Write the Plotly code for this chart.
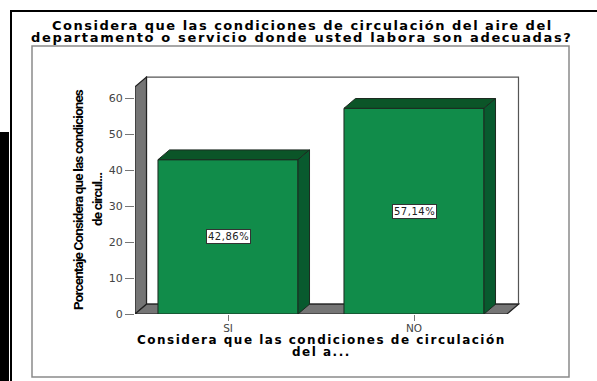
import plotly.graph_objects as go

# Survey results
categories = ["SI", "NO"]
percentages = [42.86, 57.14]
value_labels = ["42,86%", "57,14%"]
y_ticks = [0, 10, 20, 30, 40, 50, 60]

title_lines = [
    "Considera que las condiciones de circulación del aire del",
    "departamento o servicio donde usted labora son adecuadas?",
]
x_title_lines = ["Considera que las condiciones de circulación", "del a..."]
y_title_lines = ["Porcentaje Considera que las condiciones", "de circul..."]

W, H = 597, 381
FRONT = "#118c4a"
TOP = "#0b5528"
SIDE = "#085a2e"
WALL = "#757575"
EDGE = "#1c2a20"

# Oblique extrusion of the 3D look, in axis units
DX, DY = 0.0618, 2.72
BAR_W = 0.753
X0, X1 = -0.5, 1.5
WALL_TOP = 63.1


def px(x):
    return x / W


def py(y):
    return 1 - y / H


def poly(points):
    return "M" + "L".join(f"{a},{b}" for a, b in points) + "Z"


fig = go.Figure()

fig.add_bar(
    x=[0, 1], y=percentages, width=BAR_W,
    marker=dict(color=FRONT, line=dict(color=EDGE, width=1)),
    hoverinfo="skip",
)

# Top and side faces of each bar
for i, v in enumerate(percentages):
    l, r = i - BAR_W / 2, i + BAR_W / 2
    fig.add_scatter(
        x=[l, l + DX, r + DX, r, l], y=[v, v + DY, v + DY, v, v],
        mode="lines", fill="toself", fillcolor=TOP,
        line=dict(color=EDGE, width=1), hoverinfo="skip",
    )
    fig.add_scatter(
        x=[r, r + DX, r + DX, r, r], y=[0, DY, v + DY, v, 0],
        mode="lines", fill="toself", fillcolor=SIDE,
        line=dict(color=EDGE, width=1), hoverinfo="skip",
    )

shapes = [
    # Outer black rules
    dict(type="rect", xref="paper", yref="paper", x0=px(0), x1=px(9), y0=py(132), y1=py(381),
         fillcolor="#000", line_width=0),
    dict(type="rect", xref="paper", yref="paper", x0=px(10), x1=px(12), y0=py(10), y1=py(381),
         fillcolor="#000", line_width=0),
    dict(type="rect", xref="paper", yref="paper", x0=px(10), x1=px(597), y0=py(10), y1=py(12),
         fillcolor="#000", line_width=0),
    # Chart frame
    dict(type="rect", xref="paper", yref="paper", x0=px(32), x1=px(569), y0=py(46), y1=py(377),
         fillcolor="rgba(0,0,0,0)", line=dict(color="#8a8a8a", width=1.5)),
    # Back wall, side wall and floor
    dict(type="path", xref="x", yref="y", layer="below",
         path=poly([(X0 + DX, DY), (X0 + DX, WALL_TOP + DY), (X1 + DX, WALL_TOP + DY), (X1 + DX, DY)]),
         fillcolor="#fff", line=dict(color="#555", width=1.2)),
    dict(type="path", xref="x", yref="y", layer="below",
         path=poly([(X0, 0), (X0, WALL_TOP), (X0 + DX, WALL_TOP + DY), (X0 + DX, DY)]),
         fillcolor=WALL, line=dict(color="#222", width=1.2)),
    dict(type="path", xref="x", yref="y", layer="below",
         path=poly([(X0, 0), (X0 + DX, DY), (X1 + DX, DY), (X1, 0)]),
         fillcolor=WALL, line=dict(color="#222", width=1.2)),
]

annotations = []


def text(x, y, s, size, family, spacing, angle=0):
    annotations.append(dict(
        xref="paper", yref="paper", x=px(x), y=py(y),
        text=f'<b><span style="letter-spacing:{spacing}px">{s}</span></b>',
        showarrow=False, xanchor="center", yanchor="middle", textangle=angle,
        font=dict(size=size, family=family, color="#000"),
    ))


WIDE = "DejaVu Sans"
NARROW = "Roboto"
text(302, 25.5, title_lines[0], 13, WIDE, 1.5)
text(302, 37, title_lines[1], 13, WIDE, 1.65)
text(321, 340, x_title_lines[0], 12, WIDE, 1.5)
text(321, 352, x_title_lines[1], 12, WIDE, 1.5)
text(78, 200, y_title_lines[0], 13.5, NARROW, -0.85, angle=-90)
text(97, 200, y_title_lines[1], 13.5, NARROW, -0.85, angle=-90)

# Value boxes at mid-height of each bar
for i, (v, lab) in enumerate(zip(percentages, value_labels)):
    annotations.append(dict(
        x=i, y=v / 2, xref="x", yref="y",
        text=f'<span style="letter-spacing:0.5px">{lab}</span>', showarrow=False,
        font=dict(size=10, family=WIDE, color="#222"),
        bgcolor="#fff", bordercolor="#333", borderwidth=1, borderpad=1,
    ))

fig.update_layout(
    width=W, height=H, margin=dict(l=0, r=0, t=0, b=0, autoexpand=False),
    paper_bgcolor="#fff", plot_bgcolor="rgba(0,0,0,0)",
    showlegend=False, shapes=shapes, annotations=annotations,
    xaxis=dict(
        domain=[px(135), px(520)], range=[X0, X0 + 385 / 186],
        tickvals=[0, 1], ticktext=categories, ticks="outside", ticklen=6,
        tickcolor="#777", tickwidth=1, showgrid=False, zeroline=False,
        ticklabelstandoff=-2,
        tickfont=dict(size=10.5, family=WIDE, color="#444"),
    ),
    yaxis=dict(
        domain=[py(314), py(70)], range=[0, 244 / 3.6],
        tickvals=y_ticks, ticks="outside", ticklen=9,
        tickcolor="#777", tickwidth=1, showgrid=False, zeroline=False,
        tickfont=dict(size=11, family=WIDE, color="#444"),
    ),
)

fig.write_html("out.html", config=dict(displayModeBar=False))
